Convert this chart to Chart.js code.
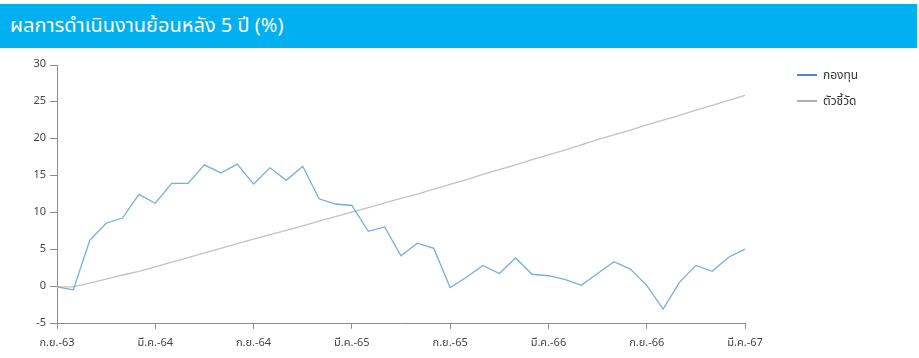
<!DOCTYPE html>
<html>
<head>
<meta charset="utf-8">
<script src="https://cdn.jsdelivr.net/npm/chart.js@4.4.0/dist/chart.umd.min.js"></script>
<style>
  body { margin: 0; background: #fff; width: 919px; height: 358px; overflow: hidden; position: relative; }
  .title-bar {
    position: absolute; left: 0; top: 4px; width: 917px; height: 44px;
    background: #00b0f0; color: #fff;
    font-family: Tahoma, "Noto Sans Thai", "Noto Sans", sans-serif; font-size: 20px;
    line-height: 44px; padding-left: 10px; box-sizing: border-box;
  }
  .chart-box { position: absolute; left: 0; top: 48px; width: 919px; height: 310px; }
  .legend { position: absolute; left: 797px; top: 66px; font-family: Tahoma, "Noto Sans Thai", "Noto Sans", sans-serif; font-size: 12px; color: #333; }
  .legend div { height: 26px; line-height: 18px; white-space: nowrap; }
  .legend span.sw { display: inline-block; width: 20px; height: 2px; vertical-align: middle; margin-right: 6px; position: relative; top: -1px; }
</style>
</head>
<body>
<div class="title-bar">ผลการดำเนินงานย้อนหลัง 5 ปี (%)</div>
<div class="chart-box"><canvas id="perfChart"></canvas></div>
<div class="legend" id="legend"></div>
<script>
// MONTH LABELS (ก.ย.-63 ... มี.ค.-67)
const MONTHS = ['ก.ย.', 'ต.ค.', 'พ.ย.', 'ธ.ค.', 'ม.ค.', 'ก.พ.', 'มี.ค.', 'เม.ย.', 'พ.ค.', 'มิ.ย.', 'ก.ค.', 'ส.ค.'];
const labels = [];
for (let i = 0; i < 43; i++) {
    const yr = 63 + Math.floor((i + 8) / 12);
    labels.push(MONTHS[i % 12] + '-' + yr);
}

// FUND (กองทุน)
const fundValues = [0, -0.4, 6.3, 8.6, 9.3, 12.5, 11.3, 14.0, 14.0, 16.5, 15.4, 16.6,
    13.9, 16.1, 14.4, 16.3, 11.9, 11.2, 11.0, 7.5, 8.1, 4.2, 5.9, 5.2,
    -0.1, 1.3, 2.9, 1.8, 3.9, 1.7, 1.5, 1.0, 0.2, 1.8, 3.4, 2.4,
    0.2, -3.0, 0.6, 2.9, 2.1, 4.0, 5.1];

// BENCHMARK (ตัวชี้วัด)
const benchValues = [0, 0.0, 0.5, 1.05, 1.6, 2.1, 2.7, 3.35, 3.95, 4.6, 5.2, 5.85,
    6.45, 7.05, 7.65, 8.25, 8.9, 9.5, 10.1, 10.7, 11.35, 11.95, 12.55, 13.2,
    13.85, 14.5, 15.2, 15.85, 16.5, 17.2, 17.85, 18.5, 19.2, 19.9, 20.55, 21.2,
    21.9, 22.55, 23.2, 23.9, 24.55, 25.2, 25.9];

const yTicks = [-5, 0, 5, 10, 15, 20, 25, 30];

const FONT = 'Tahoma, "Noto Sans Thai", "Noto Sans", sans-serif';
const AXIS_COLOR = '#8c8c8c';

const datasets = [{
    label: 'กองทุน',
    data: fundValues,
    borderColor: '#75aee0',
    backgroundColor: '#4a88cc',
    borderWidth: 1.3,
    pointRadius: 0,
    tension: 0
}, {
    label: 'ตัวชี้วัด',
    data: benchValues,
    borderColor: '#c2c2c2',
    backgroundColor: '#b0b0b0',
    borderWidth: 1.3,
    pointRadius: 0,
    tension: 0
}];

var ctx = document.getElementById('perfChart');
var perfChart = new Chart(ctx, {
    type: 'line',
    data: { labels: labels, datasets: datasets },
    options: {
        responsive: true,
        maintainAspectRatio: false,
        animation: false,
        layout: { padding: { left: 0, right: 174, top: 17, bottom: 0 } },
        plugins: {
            tooltip: { enabled: false },
            legend: { display: false }
        },
        scales: {
            x: {
                offset: false,
                afterBuildTicks: s => { s.ticks = s.ticks.filter(t => t.value % 6 === 0); },
                ticks: {
                    autoSkip: false,
                    maxRotation: 0,
                    color: '#444',
                    padding: 8,
                    font: { family: FONT, size: 11 },
                    callback: function (v) { return this.getLabelForValue(v); }
                },
                grid: { drawOnChartArea: false, drawTicks: true, tickLength: 5, color: AXIS_COLOR },
                border: { display: true, color: AXIS_COLOR }
            },
            y: {
                min: -5,
                max: 30,
                afterBuildTicks: s => { s.ticks = yTicks.map(v => ({ value: v })); },
                afterFit: s => { s.width = 57; },
                ticks: {
                    color: '#444',
                    padding: 4,
                    font: { family: FONT, size: 11 }
                },
                grid: { drawOnChartArea: false, drawTicks: true, tickLength: 7, color: AXIS_COLOR },
                border: { display: true, color: AXIS_COLOR }
            }
        }
    }
});

// HTML LEGEND
const legendEl = document.getElementById('legend');
datasets.forEach(ds => {
    const row = document.createElement('div');
    row.innerHTML = `<span class="sw" style="background:${ds.backgroundColor}"></span>${ds.label}`;
    legendEl.append(row);
});
</script>
</body>
</html>
